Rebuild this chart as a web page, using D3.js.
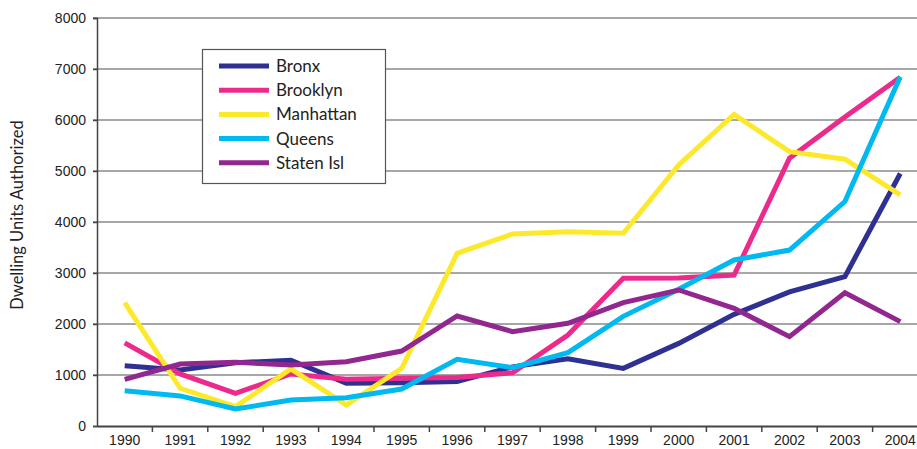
<!DOCTYPE html>
<html>
<head>
<meta charset="utf-8">
<script src="https://cdn.jsdelivr.net/npm/d3@7"></script>
<style>
  body { margin: 0; background: #fff; }
  svg { display: block; font-family: Lato, "Open Sans", sans-serif; }
</style>
</head>
<body>
<div id="chart"></div>
<script>
// years on the x axis
const years = ["1990","1991","1992","1993","1994","1995","1996","1997","1998","1999","2000","2001","2002","2003","2004"];
const yTicks = [0, 1000, 2000, 3000, 4000, 5000, 6000, 7000, 8000];

// dwelling units authorized, per borough
const bronx     = [1180, 1100, 1240, 1290, 840, 850, 870, 1160, 1320, 1130, 1620, 2190, 2630, 2930, 4950];
const brooklyn  = [1630, 1020, 640, 1020, 915, 935, 950, 1045, 1785, 2895, 2900, 2960, 5250, 6060, 6840];
const manhattan = [2420, 740, 380, 1120, 410, 1130, 3385, 3765, 3810, 3780, 5120, 6110, 5380, 5230, 4530];
const queens    = [693, 590, 333, 510, 555, 725, 1307, 1145, 1437, 2150, 2680, 3255, 3450, 4400, 6850];
const statenIsl = [915, 1215, 1250, 1196, 1261, 1470, 2157, 1850, 2013, 2418, 2667, 2307, 1752, 2614, 2046];

const seriesNames = ["Bronx", "Brooklyn", "Manhattan", "Queens", "Staten Isl"];
const seriesColors = ["#2e3192", "#ec2a8c", "#fde92c", "#00b9f0", "#92278f"];
const seriesValues = [bronx, brooklyn, manhattan, queens, statenIsl];

let width = 917, height = 449;

let svg = d3.select("#chart")
    .append("svg")
    .attr("width", width)
    .attr("height", height);

// scales
let x = d3.scaleBand()
    .domain(years)
    .range([97, 928])
    .padding(0);

let y = d3.scaleLinear()
    .domain([0, 8000])
    .range([426, 18]);

// gridlines
svg.append("g")
    .selectAll("line")
    .data(yTicks.filter(d => d > 0))
    .enter()
    .append("line")
    .attr("x1", 93)
    .attr("x2", width)
    .attr("y1", d => y(d))
    .attr("y2", d => y(d))
    .attr("stroke", "#8a8a8a")
    .attr("stroke-width", 1.5);

// y axis
let yAxis = svg.append("g")
    .attr("transform", "translate(97,0)")
    .call(d3.axisLeft(y).tickValues(yTicks).tickSize(4).tickPadding(7).tickFormat(d3.format("d")));
yAxis.select(".domain").attr("stroke", "#444").attr("stroke-width", 1.5);
yAxis.selectAll(".tick line").attr("stroke", "#444").attr("stroke-width", 1.5);
yAxis.selectAll("text").style("font-size", "14px").attr("fill", "#222");

// x axis
let xAxis = svg.append("g")
    .attr("transform", "translate(0,426)")
    .call(d3.axisBottom(x).tickSize(0).tickPadding(9));
xAxis.select(".domain").attr("stroke", "#444").attr("stroke-width", 2);
xAxis.selectAll("text").style("font-size", "14px").attr("fill", "#222");

// tick marks between categories
svg.append("g")
    .selectAll("line")
    .data(years.slice(1))
    .enter()
    .append("line")
    .attr("x1", d => x(d))
    .attr("x2", d => x(d))
    .attr("y1", 426)
    .attr("y2", 432)
    .attr("stroke", "#444")
    .attr("stroke-width", 1.5);

// y axis title
svg.append("text")
    .attr("transform", "translate(23,215) rotate(-90)")
    .attr("text-anchor", "middle")
    .style("font-size", "16.5px")
    .attr("fill", "#222")
    .text("Dwelling Units Authorized");

// lines
let line = d3.line()
    .x((d, i) => x(years[i]) + x.bandwidth() / 2)
    .y(d => y(d));

svg.append("g")
    .selectAll("path")
    .data(seriesValues)
    .enter()
    .append("path")
    .attr("d", d => line(d))
    .attr("fill", "none")
    .attr("stroke", (d, i) => seriesColors[i])
    .attr("stroke-width", 5)
    .attr("stroke-linejoin", "miter");

// legend
let legend = svg.append("g");
legend.append("rect")
    .attr("x", 202.5)
    .attr("y", 49.5)
    .attr("width", 183)
    .attr("height", 134)
    .attr("fill", "#fff")
    .attr("stroke", "#555")
    .attr("stroke-width", 1.2);

let items = legend.selectAll("g.item")
    .data(seriesNames)
    .enter()
    .append("g")
    .attr("class", "item")
    .attr("transform", (d, i) => "translate(0," + (66 + i * 24.2) + ")");

items.append("line")
    .attr("x1", 219)
    .attr("x2", 269)
    .attr("y1", 0)
    .attr("y2", 0)
    .attr("stroke", (d, i) => seriesColors[i])
    .attr("stroke-width", 5);

items.append("text")
    .attr("x", 276)
    .attr("y", 0)
    .attr("dy", "0.35em")
    .style("font-size", "17px")
    .attr("fill", "#222")
    .text(d => d);
</script>
</body>
</html>
